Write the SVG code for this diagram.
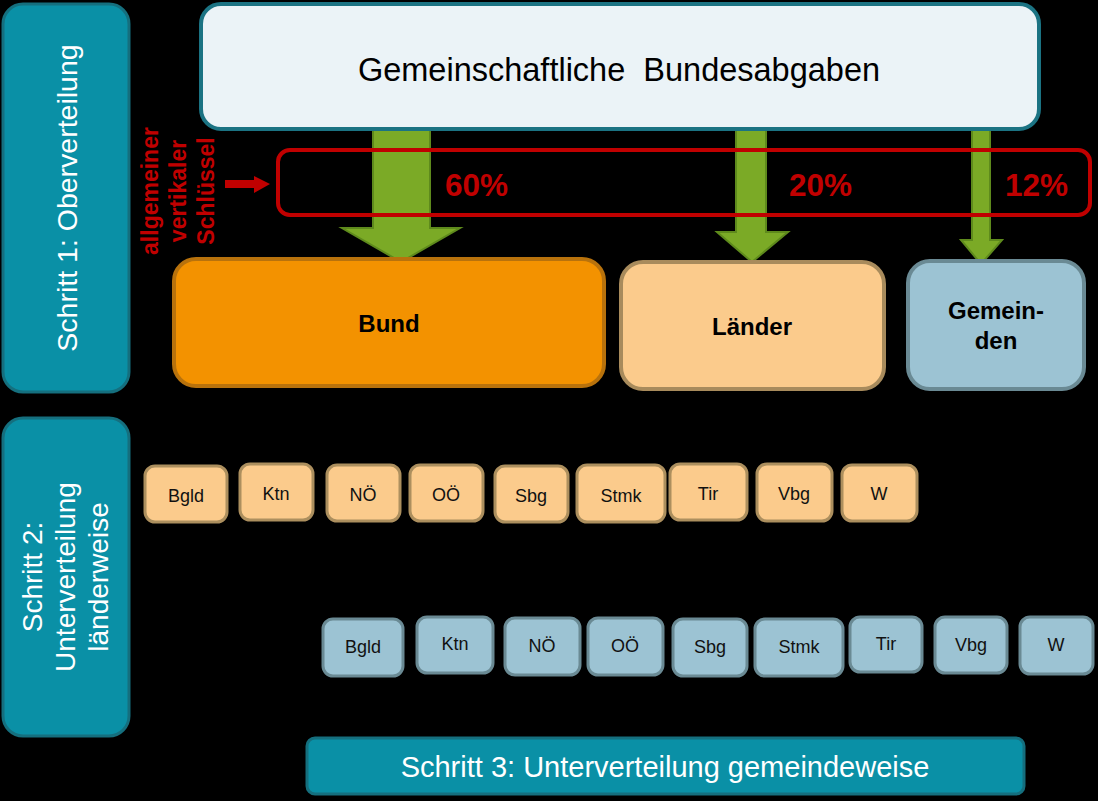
<svg xmlns="http://www.w3.org/2000/svg" width="1098" height="801" viewBox="0 0 1098 801">
<style>
.step{fill:#0A90A6;stroke:#156F7E;stroke-width:3}
.stxt{font-family:"Liberation Sans",Arial,sans-serif;fill:#FFFFFF;font-size:28px}
.big{font-family:"Liberation Sans",Arial,sans-serif;font-weight:bold;fill:#000;font-size:24px;text-anchor:middle}
.or{fill:#FBCB8C;stroke:#AC8F5E;stroke-width:3}
.bl{fill:#9CC3D3;stroke:#6A8A94;stroke-width:3}
.sm{font-family:"Liberation Sans",Arial,sans-serif;fill:#111;font-size:18px;text-anchor:middle}
.arr{fill:#7BAA26;stroke:#5E8A1C;stroke-width:2}
.pct{font-family:"Liberation Sans",Arial,sans-serif;font-weight:bold;fill:#C00000;font-size:31px}
.key{font-family:"Liberation Sans",Arial,sans-serif;font-weight:bold;fill:#C00000;font-size:23px;text-anchor:middle}
</style>
<rect x="0" y="0" width="1098" height="801" fill="#000"/>

<g id="schritt1">
<rect class="step" x="3" y="4" width="126" height="388" rx="20"/>
<text class="stxt" text-anchor="middle" style="font-size:28.5px" transform="translate(77,198) rotate(-90)">Schritt 1: Oberverteilung</text>
</g>

<g id="schritt2">
<rect class="step" x="3" y="418" width="126" height="318" rx="20"/>
<g transform="translate(0,577) rotate(-90)">
<text class="stxt" text-anchor="middle" x="0" y="42">Schritt 2:</text>
<text class="stxt" text-anchor="middle" x="0" y="75">Unterverteilung</text>
<text class="stxt" text-anchor="middle" x="0" y="108">länderweise</text>
</g>
</g>

<g id="schritt3">
<rect class="step" x="307" y="738" width="717" height="56" rx="8"/>
<text class="stxt" style="font-size:29px" text-anchor="middle" x="665" y="777">Schritt 3: Unterverteilung gemeindeweise</text>
</g>

<g id="connectors">
<polygon class="arr" points="373,128 430,128 430,228 460,228 401,262 342,228 373,228"/>
<polygon class="arr" points="736,128 766,128 766,232 788,232 752,262 717,232 736,232"/>
<polygon class="arr" points="972,128 990,128 990,240 1002,240 981,264 961,240 972,240"/>
<polygon fill="#C00000" points="225,180 254,180 254,176 270,184 254,193 254,188 225,188"/>
</g>

<g id="gemeinschaftliche">
<rect x="201" y="4" width="838" height="125" rx="20" fill="#EBF3F7" stroke="#1B7383" stroke-width="4"/>
<text x="619" y="81" font-family="Liberation Sans,Arial,sans-serif" font-size="32.5" word-spacing="9" text-anchor="middle" fill="#000">Gemeinschaftliche Bundesabgaben</text>
</g>

<g id="schluessel">
<rect x="278" y="150" width="812" height="65" rx="12" fill="none" stroke="#C00000" stroke-width="4"/>
<text class="pct" x="445" y="196" textLength="63" lengthAdjust="spacingAndGlyphs">60%</text>
<text class="pct" x="789" y="196" textLength="63" lengthAdjust="spacingAndGlyphs">20%</text>
<text class="pct" x="1005" y="196" textLength="63" lengthAdjust="spacingAndGlyphs">12%</text>
<g transform="translate(0,191) rotate(-90)">
<text class="key" x="0" y="158">allgemeiner</text>
<text class="key" x="0" y="186">vertikaler</text>
<text class="key" x="0" y="214">Schlüssel</text>
</g>
</g>

<g id="bund">
<rect x="174" y="259" width="430" height="127" rx="22" fill="#F39200" stroke="#B8720C" stroke-width="4"/>
<text class="big" x="389" y="332">Bund</text>
</g>
<g id="laender">
<rect x="621" y="262" width="263" height="127" rx="22" fill="#FBCB8C" stroke="#A88B5C" stroke-width="4"/>
<text class="big" x="752" y="335">Länder</text>
</g>
<g id="gemeinden">
<rect x="908" y="261" width="176" height="128" rx="22" fill="#9CC3D3" stroke="#6A8A94" stroke-width="4"/>
<text class="big" x="996" y="319">Gemein-</text>
<text class="big" x="996" y="349">den</text>
</g>

<g id="l-bgld"><rect class="or" x="145" y="466" width="82" height="56" rx="10"/><text class="sm" x="186" y="502">Bgld</text></g>
<g id="l-ktn"><rect class="or" x="240" y="464" width="73" height="56" rx="10"/><text class="sm" x="276" y="500">Ktn</text></g>
<g id="l-noe"><rect class="or" x="327" y="465" width="73" height="56" rx="10"/><text class="sm" x="363" y="501">NÖ</text></g>
<g id="l-ooe"><rect class="or" x="410" y="465" width="73" height="56" rx="10"/><text class="sm" x="446" y="501">OÖ</text></g>
<g id="l-sbg"><rect class="or" x="495" y="466" width="73" height="56" rx="10"/><text class="sm" x="531" y="502">Sbg</text></g>
<g id="l-stmk"><rect class="or" x="577" y="465" width="88" height="57" rx="10"/><text class="sm" x="621" y="502">Stmk</text></g>
<g id="l-tir"><rect class="or" x="670" y="464" width="77" height="56" rx="10"/><text class="sm" x="708" y="500">Tir</text></g>
<g id="l-vbg"><rect class="or" x="757" y="464" width="75" height="57" rx="10"/><text class="sm" x="794" y="500">Vbg</text></g>
<g id="l-w"><rect class="or" x="842" y="465" width="75" height="56" rx="10"/><text class="sm" x="879" y="500">W</text></g>

<g id="g-bgld"><rect class="bl" x="323" y="619" width="80" height="57" rx="10"/><text class="sm" x="363" y="653">Bgld</text></g>
<g id="g-ktn"><rect class="bl" x="417" y="617" width="76" height="56" rx="10"/><text class="sm" x="455" y="650">Ktn</text></g>
<g id="g-noe"><rect class="bl" x="505" y="618" width="75" height="57" rx="10"/><text class="sm" x="542" y="652">NÖ</text></g>
<g id="g-ooe"><rect class="bl" x="588" y="618" width="75" height="57" rx="10"/><text class="sm" x="625" y="652">OÖ</text></g>
<g id="g-sbg"><rect class="bl" x="673" y="619" width="74" height="57" rx="10"/><text class="sm" x="710" y="653">Sbg</text></g>
<g id="g-stmk"><rect class="bl" x="755" y="619" width="88" height="57" rx="10"/><text class="sm" x="799" y="653">Stmk</text></g>
<g id="g-tir"><rect class="bl" x="850" y="617" width="72" height="55" rx="10"/><text class="sm" x="886" y="650">Tir</text></g>
<g id="g-vbg"><rect class="bl" x="935" y="617" width="72" height="56" rx="10"/><text class="sm" x="971" y="651">Vbg</text></g>
<g id="g-w"><rect class="bl" x="1020" y="617" width="73" height="57" rx="10"/><text class="sm" x="1056" y="651">W</text></g>
</svg>
